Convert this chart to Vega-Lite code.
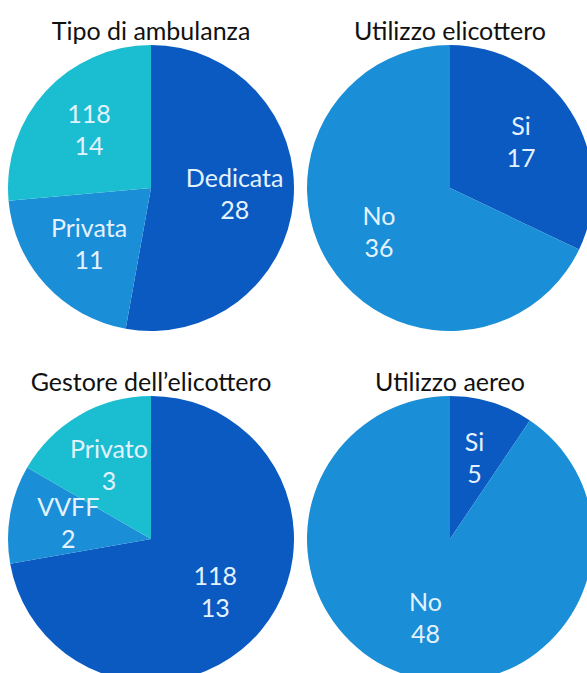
{
  "$schema": "https://vega.github.io/schema/vega-lite/v6.json",
  "padding": {"left": 5, "top": 20, "right": 0, "bottom": 0},
  "background": "white",
  "data": {"values": [
    {"chart": "Tipo di ambulanza", "cat": "Dedicata", "n": 28, "ord": 1},
    {"chart": "Tipo di ambulanza", "cat": "Privata", "n": 11, "ord": 2},
    {"chart": "Tipo di ambulanza", "cat": "118", "n": 14, "ord": 3},
    {"chart": "Utilizzo elicottero", "cat": "Si", "n": 17, "ord": 1},
    {"chart": "Utilizzo elicottero", "cat": "No", "n": 36, "ord": 2},
    {"chart": "Gestore dell’elicottero", "cat": "118", "n": 13, "ord": 1},
    {"chart": "Gestore dell’elicottero", "cat": "VVFF", "n": 2, "ord": 2},
    {"chart": "Gestore dell’elicottero", "cat": "Privato", "n": 3, "ord": 3},
    {"chart": "Utilizzo aereo", "cat": "Si", "n": 5, "ord": 1},
    {"chart": "Utilizzo aereo", "cat": "No", "n": 48, "ord": 2}
  ]},
  "facet": {
    "field": "chart", "type": "nominal",
    "sort": ["Tipo di ambulanza", "Utilizzo elicottero", "Gestore dell’elicottero", "Utilizzo aereo"],
    "header": {"title": null, "labelFont": "Lato", "labelFontSize": 25, "labelColor": "#111111", "labelPadding": -2}
  },
  "columns": 2,
  "spacing": {"row": 38, "column": 7},
  "resolve": {"scale": {"theta": "independent"}},
  "spec": {
    "width": 292,
    "height": 290,
    "encoding": {
      "theta": {"field": "n", "type": "quantitative", "stack": true},
      "order": {"field": "ord", "type": "quantitative"}
    },
    "layer": [
      {
        "mark": {"type": "arc", "outerRadius": 143, "stroke": null},
        "encoding": {
          "color": {"field": "ord", "type": "ordinal", "scale": {"domain": [1, 2, 3], "range": ["#0a5ac2", "#1a8ed6", "#1bbdd0"]}, "legend": null}
        }
      },
      {
        "mark": {"type": "text", "radius": 84, "dy": -16, "font": "Lato", "fontSize": 25, "fill": "#e4f2ff"},
        "encoding": {"text": {"field": "cat", "type": "nominal"}}
      },
      {
        "mark": {"type": "text", "radius": 84, "dy": 16, "font": "Lato", "fontSize": 25, "fill": "#e4f2ff"},
        "encoding": {"text": {"field": "n", "type": "quantitative"}}
      }
    ]
  },
  "config": {"view": {"stroke": null}}
}
